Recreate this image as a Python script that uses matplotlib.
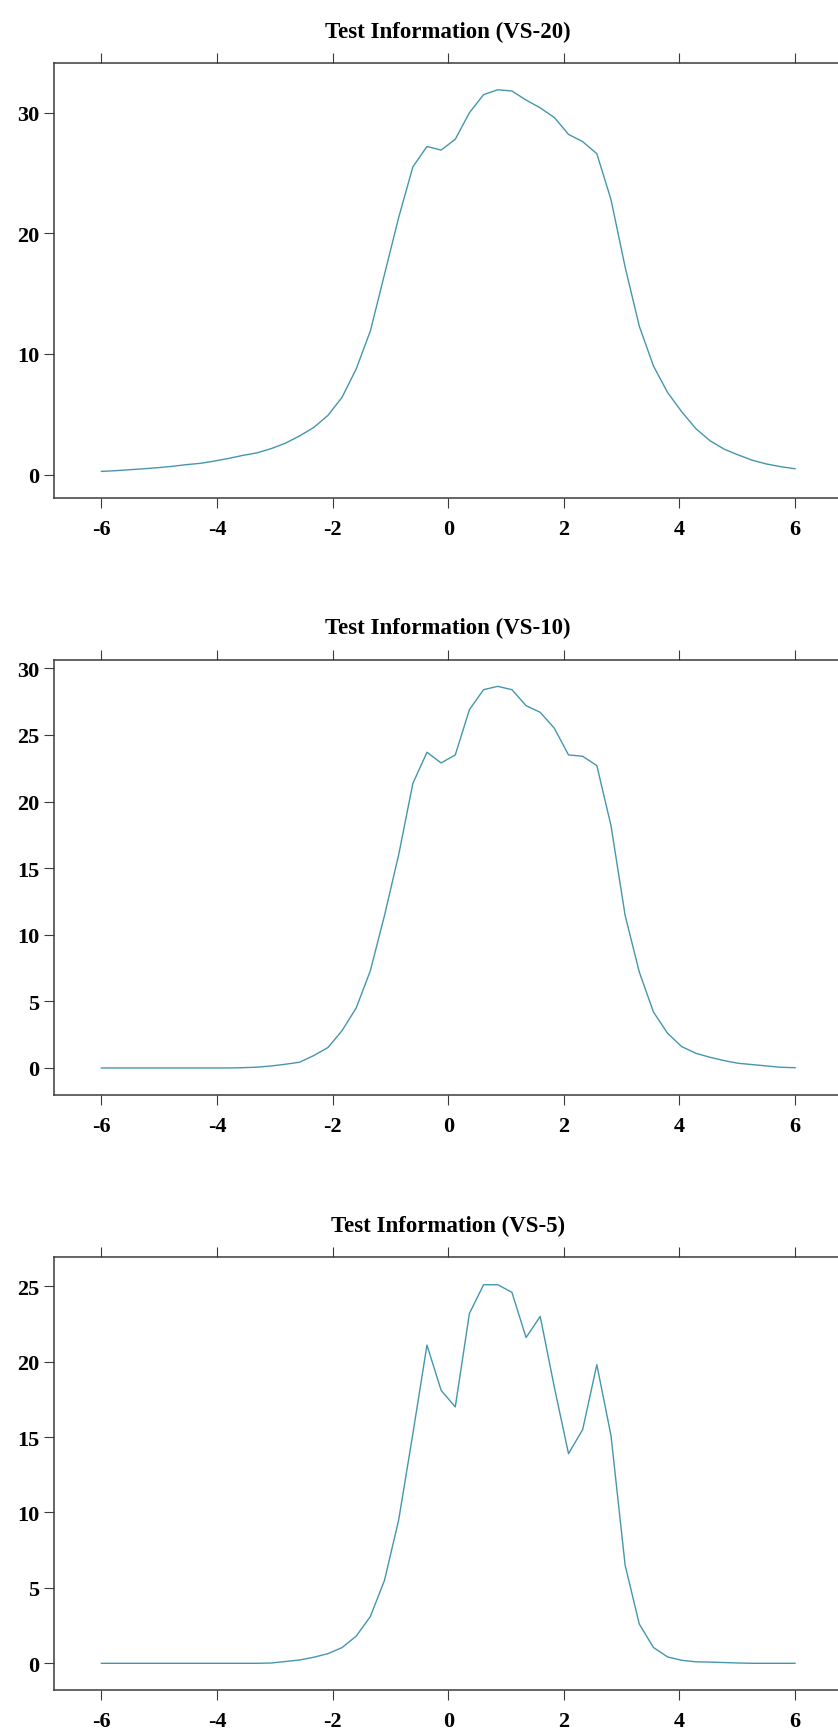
import numpy as np
import matplotlib
matplotlib.use("Agg")
import matplotlib.pyplot as plt

# ability grid the information curves were evaluated on (50 points, -6..6)
theta = np.linspace(-6, 6, 50)

info_vs20 = [0.26, 0.32, 0.40, 0.48, 0.57, 0.68, 0.82, 0.93, 1.12, 1.34,
             1.59, 1.80, 2.15, 2.60, 3.20, 3.90, 4.90, 6.40, 8.75, 11.9,
             16.6, 21.3, 25.5, 27.2, 26.9, 27.8, 30.0, 31.5, 31.9, 31.8,
             31.05, 30.4, 29.6, 28.2, 27.6, 26.6, 22.8, 17.2, 12.3, 9.0,
             6.8, 5.2, 3.8, 2.8, 2.1, 1.62, 1.18, 0.87, 0.65, 0.48]

info_vs10 = [0.0, 0.0, 0.0, 0.0, 0.0, 0.0, 0.0, 0.0, 0.0, 0.0,
             0.02, 0.06, 0.15, 0.28, 0.43, 0.93, 1.53, 2.8, 4.5, 7.3,
             11.45, 16.0, 21.35, 23.7, 22.9, 23.5, 26.9, 28.4, 28.65, 28.4,
             27.2, 26.7, 25.5, 23.5, 23.4, 22.7, 18.2, 11.45, 7.2, 4.2,
             2.6, 1.6, 1.1, 0.8, 0.55, 0.35, 0.25, 0.15, 0.05, 0.02]

info_vs5 = [0.0, 0.0, 0.0, 0.0, 0.0, 0.0, 0.0, 0.0, 0.0, 0.0,
            0.0, 0.0, 0.02, 0.12, 0.22, 0.40, 0.64, 1.04, 1.8, 3.1,
            5.5, 9.5, 15.2, 21.1, 18.1, 17.0, 23.2, 25.1, 25.1, 24.6,
            21.6, 23.0, 18.3, 13.9, 15.5, 19.8, 15.1, 6.5, 2.6, 1.05,
            0.42, 0.2, 0.1, 0.08, 0.05, 0.02, 0.0, 0.0, 0.0, 0.0]

titles = ["Test Information (VS-20)", "Test Information (VS-10)", "Test Information (VS-5)"]
series = [info_vs20, info_vs10, info_vs5]
yticks = [[0, 10, 20, 30], [0, 5, 10, 15, 20, 25, 30], [0, 5, 10, 15, 20, 25]]
ylims = [(-1.97, 34.12), (-2.03, 30.65), (-1.75, 26.94)]
xticks = [-6, -4, -2, 0, 2, 4, 6]

W, H = 838, 1731
# axes boxes in pixels: (top, bottom)
boxes = [(64, 499.3), (660.7, 1096), (1258, 1690.7)]

plt.rcParams['font.family'] = ['Liberation Serif', 'DejaVu Serif']
plt.rcParams['font.weight'] = 'bold'

fig = plt.figure(figsize=(W / 100, H / 100), dpi=100)
line_color = '#4596ad'
spine_color = '#3a3a3a'

for i in range(3):
    top, bot = boxes[i]
    ax = fig.add_axes([54 / W, 1 - bot / H, 788.4 / W, (bot - top) / H])
    ax.plot(theta, series[i], color=line_color, linewidth=1.0)
    ax.set_xlim(-6.82, 6.82)
    ax.set_ylim(*ylims[i])
    ax.set_xticks(xticks)
    ax.set_xticklabels([str(t) for t in xticks])
    ax.set_yticks(yticks[i])
    ax.tick_params(axis='x', which='both', top=True, bottom=True, labeltop=False,
                   direction='out', length=7, width=0.8, color=spine_color,
                   labelsize=16, pad=8)
    ax.tick_params(axis='y', which='both', left=True, right=False,
                   direction='out', length=7, width=0.8, color=spine_color,
                   labelsize=16, pad=3.5)
    for lab in ax.get_xticklabels() + ax.get_yticklabels():
        lab.set_fontweight('bold')
    for s in ['left', 'top', 'bottom', 'right']:
        ax.spines[s].set_color(spine_color)
        ax.spines[s].set_linewidth(1.1)
    # title sits a little above the top tick marks, centred on the axes
    ax.text(0.5, 1 + 32 / (bot - top), titles[i], transform=ax.transAxes,
            ha='center', va='center', fontsize=16.5, fontweight='bold')

fig.savefig("out.png", dpi=100)
